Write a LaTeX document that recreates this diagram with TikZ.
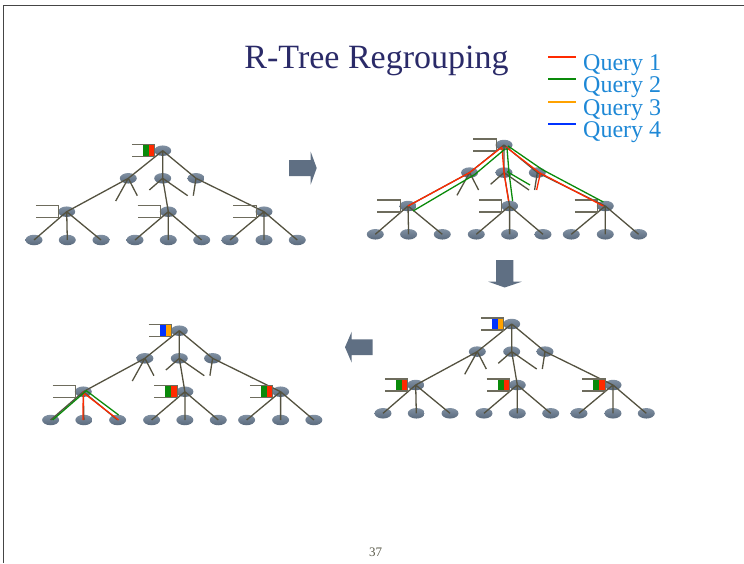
\documentclass[tikz,border=0pt]{standalone}
\usepackage{fontspec}
\setmainfont{Liberation Serif}
\usetikzlibrary{shapes.geometric,calc}

\definecolor{edgec}{HTML}{545240}
\definecolor{qred}{HTML}{FF2A00}
\definecolor{qgreen}{HTML}{0A8A0A}
\definecolor{qorange}{HTML}{FFA200}
\definecolor{qblue}{HTML}{0033FF}
\definecolor{titlec}{HTML}{2A2A68}
\definecolor{legc}{HTML}{1E88D6}
\definecolor{arrowc}{HTML}{5F6F83}
\definecolor{framec}{HTML}{454545}
\definecolor{pagec}{HTML}{5A5A4A}
\definecolor{nodetop}{HTML}{8090A2}
\definecolor{nodebot}{HTML}{5A6A7D}

\tikzset{
  tnode/.style={ellipse, minimum width=17, minimum height=10.5, inner sep=0pt,
    draw=none, top color=nodetop, bottom color=nodebot},
  tedge/.style={draw=edgec, line width=1.3pt},
  bufline/.style={draw=edgec!85, line width=1.1pt},
  qline/.style={line width=1.3pt},
  legline/.style={line width=2pt},
  bigarrow/.style={fill=arrowc},
  legtext/.style={text=legc, font=\fontsize{24}{24}\selectfont, anchor=base west, inner sep=0pt},
}

% one R-tree: root, three inner nodes, three lower nodes, nine leaves
\newcommand{\rtree}[3]{%
\begin{scope}[shift={(#2,#3)}, name prefix=#1-]
  \foreach \n/\x/\y in {r/0/0, a/-34.4/27.6, b/0/27.6, c/33.3/27.6,
      d/-96/61, e/5.6/61, f/101.3/61,
      l1/-128.7/89.3, l2/-95.4/89.3, l3/-61.7/89.3,
      l4/-27.7/89.3, l5/5.6/89.3, l6/39/89.3,
      l7/67.3/89.3, l8/101.3/89.3, l9/134.6/89.3}
    \node[tnode] (\n) at (\x,\y) {};
  \coordinate (sa1) at (-47,50.3);
  \coordinate (sa2) at (-25.4,45);
  \coordinate (sb1) at (-13.4,39.3);
  \coordinate (sb2) at (25,45);
  \coordinate (sc1) at (30.6,45);
  \draw[tedge]
    (r.center) -- (a.center) (r.center) -- (b.center) (r.center) -- (c.center)
    (a.center) -- (sa1) (a.center) -- (sa2) (a.center) -- (d.center)
    (b.center) -- (sb1) (b.center) -- (e.center) (b.center) -- (sb2)
    (c.center) -- (sc1) (c.center) -- (f.center)
    (d.center) -- (l1.center) (d.center) -- (l2.center) (d.center) -- (l3.center)
    (e.center) -- (l4.center) (e.center) -- (l5.center) (e.center) -- (l6.center)
    (f.center) -- (l7.center) (f.center) -- (l8.center) (f.center) -- (l9.center);
\end{scope}}

% node buffer, open on its left side
\newcommand{\bufbox}[1]{%
  \draw[bufline] ($(#1.center)+(-30.8,-6)$) -- ++(23,0) -- ++(0,12) -- ++(-23,0);}
% buffer holding two query entries
\newcommand{\bufpair}[3]{%
  \fill[#2] ($(#1.center)+(-19.8,-6)$) rectangle ++(6,12);
  \fill[#3] ($(#1.center)+(-13.8,-6)$) rectangle ++(6,12);
  \bufbox{#1}}

\begin{document}
\begin{tikzpicture}[x=1pt, y=-1pt]
\useasboundingbox (0,0) rectangle (744,563);

% slide frame
\draw[framec, line width=1.2pt] (744,5.5) -- (3.5,5.5) -- (3.5,563);

% title and page number
\node[text=titlec, font=\fontsize{34}{34}\selectfont, anchor=base, inner sep=0pt]
  (title) at (376.5,68) {R-Tree Regrouping};
\node[text=pagec, font=\fontsize{13}{13}\selectfont, anchor=base, inner sep=0pt]
  (page) at (375.5,556.5) {37};

% legend
\coordinate (lg1a) at (548,56.5);  \coordinate (lg1b) at (576,56.5);
\coordinate (lg2a) at (548,79);    \coordinate (lg2b) at (576,79);
\coordinate (lg3a) at (548,101.5); \coordinate (lg3b) at (576,101.5);
\coordinate (lg4a) at (548,124);   \coordinate (lg4b) at (576,124);
\draw[legline, draw=qred]    (lg1a) -- (lg1b);
\draw[legline, draw=qgreen]  (lg2a) -- (lg2b);
\draw[legline, draw=qorange] (lg3a) -- (lg3b);
\draw[legline, draw=qblue]   (lg4a) -- (lg4b);
\node[legtext] (lgt1) at (583,70.7)  {Query 1};
\node[legtext] (lgt2) at (583,92.9)  {Query 2};
\node[legtext] (lgt3) at (583,115.1) {Query 3};
\node[legtext] (lgt4) at (583,137.3) {Query 4};

% the four trees
\rtree{T1}{162.7}{150.7}
\rtree{T2}{504}{145}
\rtree{T3}{511.7}{324}
\rtree{T4}{179.3}{330.7}

% buffers
\bufpair{T1-r}{qgreen}{qred}
\bufbox{T1-d}\bufbox{T1-e}\bufbox{T1-f}

\bufbox{T2-r}
\bufbox{T2-d}\bufbox{T2-e}\bufbox{T2-f}

\bufpair{T3-r}{qblue}{qorange}
\bufpair{T3-d}{qgreen}{qred}
\bufpair{T3-e}{qgreen}{qred}
\bufpair{T3-f}{qgreen}{qred}

\bufpair{T4-r}{qblue}{qorange}
\bufbox{T4-d}
\bufpair{T4-e}{qgreen}{qred}
\bufpair{T4-f}{qgreen}{qred}

% query 1 and query 2 paths through the second tree
\draw[qline, qred]
  ($(T2-r.center)+(-2,2)$) -- (T2-a.center) -- (T2-d.center)
  ($(T2-r.center)+(-2,3)$) -- (T2-b.center) -- ($(T2-e.center)+(-1,-5)$)
  ($(T2-r.center)+(2,2)$) -- ($(T2-c.center)+(2,0)$) -- ($(T2-f.center)+(-2,0)$)
  ($(T2-c.center)+(3,1)$) -- ($(T2-sc1)+(2,0)$);
\draw[qline, qgreen]
  ($(T2-r.center)+(1,4)$) -- ($(T2-a.center)+(5,2)$) -- ($(T2-d.center)+(5,5)$)
  ($(T2-r.center)+(3,3)$) -- ($(T2-b.center)+(5,0)$) -- ($(T2-e.center)+(3,-5)$)
  ($(T2-b.center)+(3,-1)$) -- ($(T2-sb2)+(1,-5)$)
  ($(T2-r.center)+(4,1)$) -- ($(T2-c.center)+(5,-3)$) -- ($(T2-f.center)+(-2,-4)$);

% query 1 and query 2 below the first lower node of the last tree
\draw[qline, qred]
  ($(T4-l2.center)+(-1,0)$) -- ($(T4-d.center)+(0,1)$) -- ($(T4-l3.center)+(1,0)$);
\draw[qline, qgreen]
  ($(T4-l1.center)+(2,0)$) -- ($(T4-d.center)+(3,-1)$) -- ($(T4-l3.center)+(1,-5)$);

% block arrows between the steps
\fill[bigarrow] (289,160) -- (310.7,160) -- (310.7,151.7) -- (316.7,168)
  -- (310.7,184.5) -- (310.7,176) -- (289,176) -- cycle;
\fill[bigarrow] (496,260) -- (513.3,260) -- (513.3,281.7) -- (521.7,281.7)
  -- (504.7,287.5) -- (488.3,281.7) -- (496,281.7) -- cycle;
\fill[bigarrow] (372.7,339.3) -- (351.7,339.3) -- (351.7,331.7) -- (345,347.2)
  -- (351.7,362.7) -- (351.7,355) -- (372.7,355) -- cycle;
\end{tikzpicture}
\end{document}
